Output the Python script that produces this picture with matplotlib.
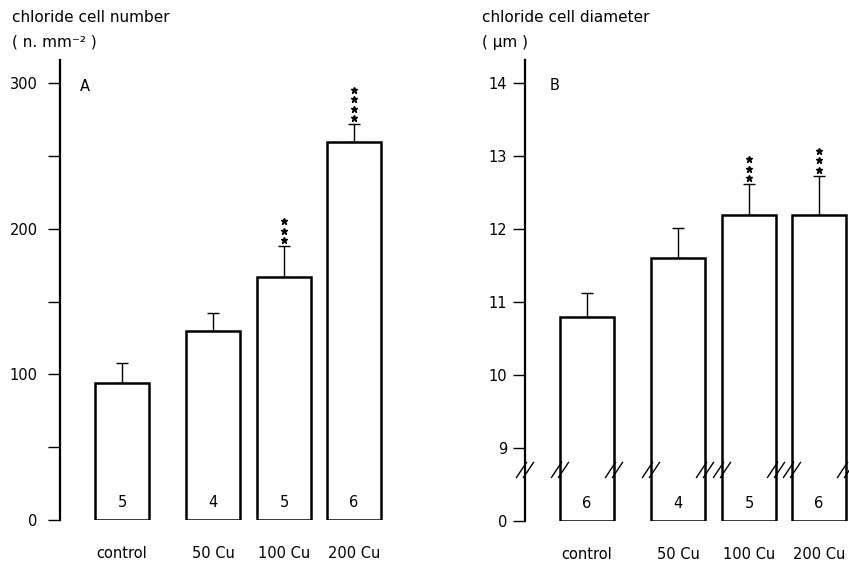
import matplotlib
matplotlib.use('Agg')
import matplotlib.pyplot as plt
from matplotlib.transforms import offset_copy, ScaledTranslation

# dados
categories = ['control', '50 Cu', '100 Cu', '200 Cu']

cell_number = [94, 130, 167, 260]
cell_number_err = [14, 12, 21, 12]
cell_number_n = [5, 4, 5, 6]
cell_number_stars = [0, 0, 3, 4]

cell_diameter = [10.8, 11.6, 12.2, 12.2]
cell_diameter_err = [0.32, 0.42, 0.42, 0.53]
cell_diameter_n = [6, 4, 5, 6]
cell_diameter_stars = [0, 0, 3, 3]

plt.rcParams['font.family'] = 'DejaVu Sans'

W, H = 849, 566
fig = plt.figure(figsize=(W / 100, H / 100), dpi=100)

xpos = [62, 153, 224, 294]   # posicoes das barras (layout)
bar_w = 54


def draw_panel(ax, values, errs, ns, stars, base, letter, letter_x, letter_y):
    heights = [v - base for v in values]
    ax.bar(xpos, heights, width=bar_w, bottom=base, color='white',
           edgecolor='black', linewidth=1.8, zorder=2)
    ax.errorbar(xpos, values, yerr=[[0] * len(errs), errs], fmt='none',
                ecolor='black', elinewidth=1.0, capsize=4.5, capthick=1.0,
                zorder=1)
    # asteriscos de significancia
    for x, v, e, k in zip(xpos, values, errs, stars):
        for i in range(k):
            tr = offset_copy(ax.transData, fig=fig, x=0,
                             y=(6 + 9.5 * i) * 0.72, units='points')
            ax.plot([x], [v + e], marker='*', markersize=4.5, color='black',
                    transform=tr, clip_on=False)
    # numero de amostras dentro das barras
    for x, n in zip(xpos, ns):
        ax.annotate(str(n), (x, base), xytext=(0, 12.5),
                    textcoords='offset points', ha='center', va='center',
                    fontsize=10.5)
    ax.set_xticks(xpos)
    ax.set_xticklabels(categories, fontsize=10.5)
    ax.tick_params(axis='x', length=0, pad=19)
    for s in ['top', 'right', 'bottom']:
        ax.spines[s].set_visible(False)
    ax.spines['left'].set_linewidth(1.6)
    ax.tick_params(axis='y', which='both', direction='out', length=9,
                   width=1.0, labelsize=10.5)
    ax.text(letter_x, letter_y, letter, fontsize=10.5, va='center')


# painel A
axA = fig.add_axes([60 / W, (H - 520) / H, 340 / W, 460 / H])
axA.set_xlim(0, 340)
axA.set_ylim(0, 316)
axA.set_yticks([0, 100, 200, 300])
axA.set_yticks([50, 150, 250], minor=True)
draw_panel(axA, cell_number, cell_number_err, cell_number_n,
           cell_number_stars, 0, 'A', 20, 298)
axA.tick_params(axis='y', pad=7)

# painel B (eixo quebrado entre 0 e 9)
axB = fig.add_axes([525 / W, (H - 521) / H, 324 / W, 461 / H])
axB.set_xlim(0, 324)
axB.set_ylim(8, 14.32)
axB.set_yticks([8, 9, 10, 11, 12, 13, 14])
axB.set_yticklabels(['0', '9', '10', '11', '12', '13', '14'])
draw_panel(axB, cell_diameter, cell_diameter_err, cell_diameter_n,
           cell_diameter_stars, 8, 'B', 25, 13.97)
axB.tick_params(axis='y', pad=4)

# marcas de quebra (//)
y_break = 8.7
break_x = [0]
for x in xpos:
    break_x += [x - bar_w / 2, x + bar_w / 2]
for bx in break_x:
    tr = fig.dpi_scale_trans + ScaledTranslation(bx, y_break, axB.transData)
    for d in (-0.035, 0.035):
        axB.plot([d - 0.05, d + 0.05], [-0.075, 0.075], color='black',
                 linewidth=1.0, transform=tr, clip_on=False, zorder=3)

# titulos dos eixos
fig.text(12 / W, 1 - 18 / H, 'chloride cell number', fontsize=11, va='center')
fig.text(12 / W, 1 - 42 / H, '( n. mm\u207b\u00b2 )', fontsize=11, va='center')
fig.text(482 / W, 1 - 18 / H, 'chloride cell diameter', fontsize=11, va='center')
fig.text(482 / W, 1 - 42 / H, '( \u00b5m )', fontsize=11, va='center')

plt.savefig('out.png', dpi=100)
